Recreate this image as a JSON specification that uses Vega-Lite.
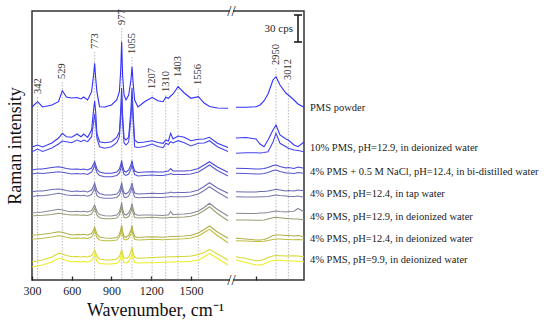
{
"$schema": "https://vega.github.io/schema/vega-lite/v6.json",
"width": 272, "height": 269,
"autosize": {"type": "none"},
"padding": {"left": 32, "top": 11, "right": 246, "bottom": 41},
"background": "white",
"config": {"view": {"stroke": "#333", "strokeWidth": 1.5}, "text": {"font": "Liberation Serif"}},
"datasets": {
"spectra": [
{"w":300,"g":"L","P":173,"a1":133,"a2":128.3,"b1":110,"b2":106,"c1":88.3,"c2":83.3,"d1":67.3,"d2":64,"e1":45,"e2":41,"f1":18.3,"f2":13.3},
{"w":342,"g":"L","P":178.3,"a1":135,"a2":131,"b1":111,"b2":107,"c1":89,"c2":84.5,"d1":67.5,"d2":64.5,"e1":45.3,"e2":41.3,"f1":19,"f2":14},
{"w":380,"g":"L","P":173,"a1":133,"a2":128.5,"b1":111,"b2":106.5,"c1":89,"c2":84.3,"d1":68,"d2":64.7,"e1":45.7,"e2":41.7,"f1":20,"f2":15},
{"w":450,"g":"L","P":175,"a1":137,"a2":132,"b1":112.5,"b2":107.5,"c1":90.5,"c2":85.5,"d1":69.5,"d2":65.5,"e1":47,"e2":43,"f1":23,"f2":18},
{"w":500,"g":"L","P":178.3,"a1":142,"a2":136,"b1":113.3,"b2":108.3,"c1":91,"c2":86.7,"d1":70.7,"d2":66.7,"e1":48.3,"e2":44.3,"f1":26.7,"f2":21.7},
{"w":529,"g":"L","P":189.3,"a1":146.7,"a2":139,"b1":112.5,"b2":107.7,"c1":90.5,"c2":86,"d1":70,"d2":66.3,"e1":47.8,"e2":43.8,"f1":26,"f2":21},
{"w":560,"g":"L","P":183,"a1":143.3,"a2":138.3,"b1":111.5,"b2":107,"c1":89.5,"c2":85,"d1":69,"d2":65.5,"e1":46.5,"e2":42.7,"f1":24.5,"f2":19.5},
{"w":600,"g":"L","P":182,"a1":142.7,"a2":137.3,"b1":110.7,"b2":106,"c1":88.5,"c2":84.5,"d1":68.3,"d2":65,"e1":45,"e2":41.7,"f1":23.3,"f2":18.3},
{"w":640,"g":"L","P":182.5,"a1":146,"a2":140,"b1":111,"b2":106.5,"c1":89,"c2":84.7,"d1":68.7,"d2":65.2,"e1":45.5,"e2":42,"f1":23.5,"f2":18.5},
{"w":670,"g":"L","P":181,"a1":143.3,"a2":138.3,"b1":110.5,"b2":106,"c1":88.5,"c2":84.3,"d1":68.3,"d2":64.8,"e1":45.2,"e2":41.7,"f1":23,"f2":18},
{"w":690,"g":"L","P":183,"a1":146,"a2":140,"b1":111,"b2":106.5,"c1":89,"c2":84.7,"d1":68.7,"d2":65,"e1":45.7,"e2":42,"f1":23.5,"f2":18.5},
{"w":720,"g":"L","P":180,"a1":142.7,"a2":138.3,"b1":110,"b2":105.5,"c1":88,"c2":83.8,"d1":68,"d2":64.5,"e1":45,"e2":41.5,"f1":23,"f2":18},
{"w":750,"g":"L","P":188.3,"a1":150,"a2":143.3,"b1":112,"b2":108,"c1":90,"c2":85.5,"d1":69.5,"d2":66,"e1":46.5,"e2":43,"f1":24.5,"f2":19.5},
{"w":765,"g":"L","P":205,"a1":170,"a2":158,"b1":116,"b2":112,"c1":94,"c2":89.5,"d1":73,"d2":69.5,"e1":50,"e2":46.5,"f1":27.5,"f2":23},
{"w":773,"g":"L","P":216.7,"a1":179,"a2":166,"b1":118.3,"b2":115,"c1":96.7,"c2":92.7,"d1":75,"d2":71.7,"e1":52.7,"e2":49.3,"f1":30,"f2":25.5},
{"w":781,"g":"L","P":202,"a1":168,"a2":156,"b1":115,"b2":111.5,"c1":93,"c2":88.5,"d1":72,"d2":68.5,"e1":49.5,"e2":46,"f1":27,"f2":22.5},
{"w":790,"g":"L","P":188.3,"a1":146.7,"a2":142,"b1":111,"b2":107.5,"c1":89,"c2":84.5,"d1":68.5,"d2":65,"e1":46,"e2":42.5,"f1":23.5,"f2":18.5},
{"w":810,"g":"L","P":173.3,"a1":138.3,"a2":133.3,"b1":108,"b2":104.5,"c1":86.5,"c2":82.5,"d1":65.5,"d2":62.3,"e1":43,"e2":40,"f1":21,"f2":16.5},
{"w":850,"g":"L","P":173,"a1":137.3,"a2":131.7,"b1":106.7,"b2":103.3,"c1":85,"c2":81.7,"d1":64.3,"d2":61.3,"e1":42,"e2":39.3,"f1":20,"f2":16},
{"w":900,"g":"L","P":175,"a1":138.3,"a2":133.3,"b1":106.7,"b2":103.3,"c1":85,"c2":81.7,"d1":64,"d2":61.3,"e1":41.7,"e2":39.3,"f1":20,"f2":16},
{"w":940,"g":"L","P":180,"a1":142.7,"a2":137.3,"b1":108,"b2":104.5,"c1":86,"c2":82.5,"d1":65,"d2":62,"e1":42.5,"e2":40,"f1":21,"f2":16.7},
{"w":960,"g":"L","P":188.3,"a1":148.3,"a2":143.3,"b1":111,"b2":107,"c1":89,"c2":85,"d1":68,"d2":65,"e1":45.5,"e2":43,"f1":23.5,"f2":19},
{"w":970,"g":"L","P":210,"a1":170,"a2":162,"b1":115,"b2":111,"c1":93,"c2":89,"d1":72.5,"d2":69,"e1":50,"e2":46.5,"f1":27,"f2":22.5},
{"w":977,"g":"L","P":238.3,"a1":192,"a2":184,"b1":119.3,"b2":116,"c1":97.3,"c2":93.3,"d1":77.3,"d2":73.3,"e1":55,"e2":50.7,"f1":30.7,"f2":26},
{"w":984,"g":"L","P":205,"a1":165,"a2":158,"b1":114,"b2":110.5,"c1":92,"c2":88,"d1":71,"d2":67.5,"e1":48.5,"e2":45,"f1":26,"f2":21.5},
{"w":995,"g":"L","P":185,"a1":142,"a2":137,"b1":109,"b2":105.5,"c1":87,"c2":83,"d1":66,"d2":62.7,"e1":43.5,"e2":40.7,"f1":22,"f2":17.5},
{"w":1010,"g":"L","P":180,"a1":140,"a2":135,"b1":108,"b2":104.5,"c1":86,"c2":82.3,"d1":65,"d2":62,"e1":42.7,"e2":40,"f1":21.5,"f2":17},
{"w":1030,"g":"L","P":185,"a1":143,"a2":138,"b1":110,"b2":106,"c1":88,"c2":84,"d1":67,"d2":63.5,"e1":44.5,"e2":41.5,"f1":23,"f2":18.5},
{"w":1047,"g":"L","P":200,"a1":170,"a2":162,"b1":115,"b2":111,"c1":93,"c2":89,"d1":72,"d2":68.5,"e1":50,"e2":46,"f1":28,"f2":22.5},
{"w":1055,"g":"L","P":213.3,"a1":192,"a2":182,"b1":119.3,"b2":115.7,"c1":97,"c2":93,"d1":76.5,"d2":73,"e1":54.5,"e2":50.5,"f1":32.7,"f2":26.7},
{"w":1063,"g":"L","P":198,"a1":168,"a2":160,"b1":114,"b2":110.5,"c1":92,"c2":88,"d1":71,"d2":67.5,"e1":48.5,"e2":45,"f1":27,"f2":22},
{"w":1075,"g":"L","P":180,"a1":140,"a2":133.3,"b1":109,"b2":105.5,"c1":87,"c2":83,"d1":66,"d2":62.7,"e1":43.5,"e2":40.7,"f1":22.5,"f2":17.5},
{"w":1100,"g":"L","P":173,"a1":137.3,"a2":132.5,"b1":107.5,"b2":104,"c1":86,"c2":82.3,"d1":64.7,"d2":62,"e1":42.5,"e2":40,"f1":21.7,"f2":17},
{"w":1150,"g":"L","P":178.3,"a1":138,"a2":133.5,"b1":108,"b2":104.5,"c1":86.3,"c2":82.5,"d1":65,"d2":62.3,"e1":43,"e2":40.3,"f1":22,"f2":17.2},
{"w":1207,"g":"L","P":182.7,"a1":139.3,"a2":136,"b1":108.3,"b2":105,"c1":86.7,"c2":82.7,"d1":65,"d2":62.7,"e1":43.3,"e2":40.7,"f1":22.5,"f2":17.3},
{"w":1250,"g":"L","P":179.3,"a1":137.5,"a2":133.5,"b1":108,"b2":104.5,"c1":86.5,"c2":82.5,"d1":64.7,"d2":62.3,"e1":43,"e2":40.5,"f1":22.7,"f2":17.5},
{"w":1290,"g":"L","P":178.3,"a1":136.7,"a2":132.3,"b1":108,"b2":104.5,"c1":86.5,"c2":82.5,"d1":64.5,"d2":62,"e1":42.8,"e2":40.3,"f1":23,"f2":17.7},
{"w":1310,"g":"L","P":182.7,"a1":140,"a2":136.7,"b1":108.5,"b2":105,"c1":87,"c2":83,"d1":65,"d2":62.3,"e1":43,"e2":40.5,"f1":23,"f2":17.7},
{"w":1330,"g":"L","P":181.7,"a1":139,"a2":135.5,"b1":109,"b2":105.5,"c1":87,"c2":83,"d1":65,"d2":62.3,"e1":43.2,"e2":40.5,"f1":23.3,"f2":18},
{"w":1347,"g":"L","P":184,"a1":146.7,"a2":138.3,"b1":111.5,"b2":106.5,"c1":88,"c2":83.5,"d1":68.5,"d2":62.7,"e1":43.5,"e2":40.7,"f1":23.3,"f2":18},
{"w":1365,"g":"L","P":186,"a1":141,"a2":137,"b1":109,"b2":105.5,"c1":87.3,"c2":83.2,"d1":65.3,"d2":62.5,"e1":43.5,"e2":40.7,"f1":23.3,"f2":18},
{"w":1403,"g":"L","P":193.3,"a1":144,"a2":139.3,"b1":109,"b2":105.5,"c1":87.5,"c2":83.3,"d1":65.7,"d2":62.7,"e1":43.8,"e2":41,"f1":23.5,"f2":18.2},
{"w":1450,"g":"L","P":187,"a1":142.7,"a2":137.3,"b1":109,"b2":105.5,"c1":87.5,"c2":83.3,"d1":66,"d2":63,"e1":44,"e2":41.2,"f1":23.5,"f2":18.3},
{"w":1500,"g":"L","P":181.7,"a1":139.3,"a2":134,"b1":109.5,"b2":106,"c1":88,"c2":84,"d1":66.7,"d2":63.7,"e1":44.7,"e2":42,"f1":24,"f2":18.7},
{"w":1556,"g":"L","P":183.3,"a1":140.7,"a2":136.7,"b1":111.5,"b2":108,"c1":90,"c2":86,"d1":69,"d2":66,"e1":47,"e2":44,"f1":25.5,"f2":20},
{"w":1600,"g":"L","P":177,"a1":141,"a2":137,"b1":115,"b2":111.5,"c1":93.5,"c2":89.5,"d1":72.5,"d2":69.5,"e1":50.5,"e2":47.5,"f1":27.5,"f2":23},
{"w":1640,"g":"L","P":173.5,"a1":142.7,"a2":139.3,"b1":118.3,"b2":115,"c1":97.3,"c2":93.3,"d1":76.7,"d2":73.3,"e1":54,"e2":50.7,"f1":30.7,"f2":26.7},
{"w":1700,"g":"L","P":172,"a1":136.7,"a2":133.3,"b1":113,"b2":109.5,"c1":92,"c2":88,"d1":70.5,"d2":66.5,"e1":48,"e2":44.5,"f1":26,"f2":21.5},
{"w":1780,"g":"L","P":171.7,"a1":132.5,"a2":128.5,"b1":107.7,"b2":104,"c1":86.7,"c2":81.7,"d1":64,"d2":59.3,"e1":41.7,"e2":37.3,"f1":20,"f2":15},
{"w":2750,"g":"R","P":172.7,"a1":142,"a2":126.7,"b1":111.7,"b2":106.7,"c1":88.3,"c2":83.3,"d1":66.7,"d2":60,"e1":41.7,"e2":39.3,"f1":23.3,"f2":20},
{"w":2800,"g":"R","P":172.7,"a1":142.5,"a2":127.3,"b1":111.5,"b2":106.5,"c1":88,"c2":83,"d1":66.5,"d2":60,"e1":41,"e2":39,"f1":21.5,"f2":17.5},
{"w":2850,"g":"R","P":173.3,"a1":141,"a2":127.3,"b1":111,"b2":106,"c1":88,"c2":83,"d1":66.5,"d2":59.7,"e1":40,"e2":38.5,"f1":19.3,"f2":15},
{"w":2870,"g":"R","P":175,"a1":136,"a2":127,"b1":111,"b2":106,"c1":88.5,"c2":83.2,"d1":67,"d2":59.7,"e1":40,"e2":38.5,"f1":19.5,"f2":15},
{"w":2890,"g":"R","P":179,"a1":133.3,"a2":127.5,"b1":111.5,"b2":106.5,"c1":88.5,"c2":83.3,"d1":67,"d2":60,"e1":40.5,"e2":38.7,"f1":20.5,"f2":16},
{"w":2910,"g":"R","P":186,"a1":140,"a2":128.3,"b1":112.5,"b2":107.5,"c1":89,"c2":83.5,"d1":67.5,"d2":61,"e1":42,"e2":39.5,"f1":22.5,"f2":18},
{"w":2935,"g":"R","P":200,"a1":150,"a2":138,"b1":114.5,"b2":109.5,"c1":90,"c2":84.5,"d1":68.5,"d2":62.3,"e1":44.5,"e2":40.5,"f1":24,"f2":19.5},
{"w":2950,"g":"R","P":203.3,"a1":155,"a2":146.7,"b1":115,"b2":110,"c1":90.7,"c2":85,"d1":69,"d2":62.7,"e1":45,"e2":41,"f1":24.5,"f2":20},
{"w":2970,"g":"R","P":195,"a1":145,"a2":136.7,"b1":113.5,"b2":108.5,"c1":90,"c2":84.5,"d1":68.5,"d2":62.3,"e1":45,"e2":41,"f1":24.3,"f2":19.7},
{"w":3000,"g":"R","P":186.7,"a1":141,"a2":133.3,"b1":112,"b2":107,"c1":89,"c2":84,"d1":68,"d2":61.5,"e1":44.5,"e2":40.5,"f1":24,"f2":19.3},
{"w":3012,"g":"R","P":185,"a1":140,"a2":131.7,"b1":112.5,"b2":107,"c1":89.5,"c2":83.5,"d1":68.5,"d2":61.5,"e1":44.5,"e2":40.5,"f1":24,"f2":19},
{"w":3040,"g":"R","P":180,"a1":135,"a2":130,"b1":111.5,"b2":106.5,"c1":89,"c2":83.5,"d1":68.7,"d2":61,"e1":44,"e2":40.3,"f1":24.3,"f2":19},
{"w":3060,"g":"R","P":176,"a1":133.3,"a2":129.5,"b1":113,"b2":107.5,"c1":90,"c2":84,"d1":71.5,"d2":61,"e1":44.5,"e2":40.5,"f1":24,"f2":18.7},
{"w":3090,"g":"R","P":172.7,"a1":138,"a2":128.3,"b1":111.7,"b2":106.7,"c1":89.3,"c2":82.7,"d1":68.3,"d2":60,"e1":43.3,"e2":40,"f1":23.3,"f2":18.3}
],
"peaks": [
{"p":342,"y":183,"t":"342"},{"p":529,"y":198,"t":"529"},{"p":773,"y":228,"t":"773"},{"p":977,"y":252,"t":"977"},{"p":1055,"y":223,"t":"1055"},{"p":1207,"y":188,"t":"1207"},{"p":1310,"y":185,"t":"1310"},{"p":1403,"y":200,"t":"1403"},{"p":1556,"y":192,"t":"1556"},{"p":2950,"y":212,"t":"2950"},{"p":3012,"y":197,"t":"3012"}
],
"conds": [
{"t":"PMS powder","y":172},
{"t":"10% PMS, pH=12.9, in deionized water","y":132},
{"t":"4% PMS + 0.5 M NaCl, pH=12.4, in bi-distilled water","y":108},
{"t":"4% PMS, pH=12.4, in tap water","y":86},
{"t":"4% PMS, pH=12.9, in deionized water","y":63},
{"t":"4% PMS, pH=12.4, in deionized water","y":41},
{"t":"4% PMS, pH=9.9, in deionized water","y":20}
],
"bar": [{"x":3060,"lo":238,"hi":265,"t":"30 cps","m":251.5}],
"caps": [{"a":3040,"b":3080,"y":265},{"a":3040,"b":3080,"y":238}],
"gap": [{"a":2050,"b":2470,"lo":266,"hi":272},{"a":2050,"b":2470,"lo":-3,"hi":3}],
"brk": [{"x":2260,"y":269},{"x":2260,"y":0}]
},
"layer": [
{
"data": {"name": "peaks"},
"mark": {"type": "rule", "color": "#a8a8a8", "strokeWidth": 0.8, "strokeDash": [1.5, 1.5]},
"encoding": {
"x": {"field": "p", "type": "quantitative"},
"y": {"field": "y", "type": "quantitative"},
"y2": {"value": "height"}
}
},
{
"data": {"name": "spectra"},
"transform": [{"fold": ["P","a1","a2","b1","b2","c1","c2","d1","d2","e1","e2","f1","f2"], "as": ["s","v"]}],
"mark": {"type": "line", "strokeWidth": 1.1},
"encoding": {
"x": {"field": "w", "type": "quantitative",
"scale": {"domain": [300, 1780, 2745, 3090], "range": [0, 196, 203, 272], "nice": false, "zero": false},
"axis": {"values": [300,450,600,750,900,1050,1200,1350,1500,1650,2850,3000], "format": "d",
"labelExpr": "datum.value % 300 === 0 ? datum.label : ''",
"tickSize": -4,
"tickColor": "#222", "tickWidth": 1.3, "domain": false, "grid": false,
"labelFont": "Liberation Serif", "labelFontSize": 12, "labelColor": "#222", "labelPadding": 9, "labelOverlap": false, "labelFlush": false,
"title": "Wavenumber, cm⁻¹", "titleFont": "Liberation Serif", "titleFontSize": 18, "titleFontWeight": "normal", "titleColor": "#111",
"titleX": 123, "titleY": 35, "titleBaseline": "alphabetic"}},
"y": {"field": "v", "type": "quantitative",
"scale": {"domain": [0, 269], "nice": false, "zero": false},
"axis": {"domain": false, "ticks": false, "labels": false, "grid": false, "title": "Raman intensity",
"titleFont": "Liberation Serif", "titleFontSize": 18, "titleFontWeight": "normal", "titleColor": "#111", "titlePadding": 8}},
"color": {"field": "s", "type": "nominal", "legend": null,
"scale": {"domain": ["P","a1","a2","b1","b2","c1","c2","d1","d2","e1","e2","f1","f2"],
"range": ["#3030ff","#3838f5","#4646ee","#4848d8","#5858d0","#6a6ab8","#7878b0","#8a8a98","#9c9c72","#b0b04a","#bebe40","#d8d830","#eeee22"]}},
"detail": {"field": "g", "type": "nominal"}
}
},
{
"data": {"name": "peaks"},
"mark": {"type": "text", "angle": 270, "align": "left", "baseline": "middle", "dx": 3, "fontSize": 10.5, "color": "#333"},
"encoding": {
"x": {"field": "p", "type": "quantitative"},
"y": {"field": "y", "type": "quantitative"},
"text": {"field": "t", "type": "nominal"}
}
},
{
"data": {"name": "conds"},
"mark": {"type": "text", "align": "left", "baseline": "middle", "dx": 6, "fontSize": 10.5, "color": "#222"},
"encoding": {
"x": {"value": "width"},
"y": {"field": "y", "type": "quantitative"},
"text": {"field": "t", "type": "nominal"}
}
},
{
"data": {"name": "bar"},
"mark": {"type": "rule", "color": "#111", "strokeWidth": 1.5},
"encoding": {"x": {"field": "x", "type": "quantitative"}, "y": {"field": "lo", "type": "quantitative"}, "y2": {"field": "hi"}}
},
{
"data": {"name": "caps"},
"mark": {"type": "rule", "color": "#111", "strokeWidth": 1.5},
"encoding": {"x": {"field": "a", "type": "quantitative"}, "x2": {"field": "b"}, "y": {"field": "y", "type": "quantitative"}}
},
{
"data": {"name": "bar"},
"mark": {"type": "text", "align": "right", "baseline": "middle", "dx": -5, "fontSize": 11, "color": "#222"},
"encoding": {"x": {"field": "x", "type": "quantitative"}, "y": {"field": "m", "type": "quantitative"}, "text": {"field": "t", "type": "nominal"}}
},
{
"data": {"name": "gap"},
"mark": {"type": "rect", "color": "white"},
"encoding": {"x": {"field": "a", "type": "quantitative"}, "x2": {"field": "b"}, "y": {"field": "lo", "type": "quantitative"}, "y2": {"field": "hi"}}
},
{
"data": {"name": "brk"},
"mark": {"type": "text", "align": "center", "baseline": "middle", "fontSize": 15, "color": "#222", "text": "//"},
"encoding": {"x": {"field": "x", "type": "quantitative"}, "y": {"field": "y", "type": "quantitative"}}
}
]
}
